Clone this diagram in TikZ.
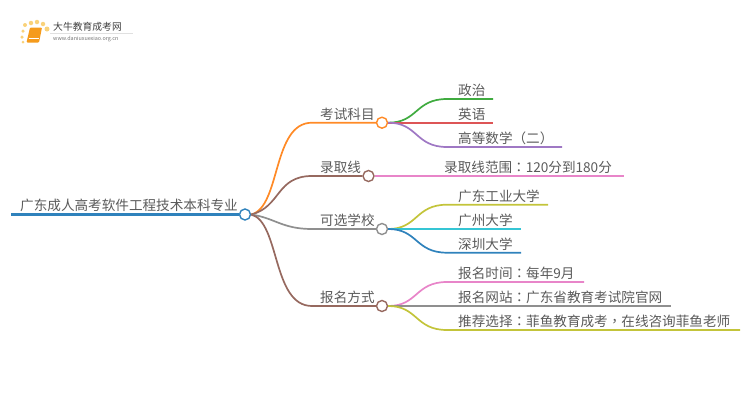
\documentclass[tikz,border=0pt]{standalone}
\usepackage{fontspec}
\setmainfont{Noto Sans CJK SC}
\newfontfamily\puncfont{Noto Sans CJK TC}
\newcommand{\zhpunc}[1]{{\puncfont #1}}
\definecolor{cOrange}{HTML}{FF8A26}
\definecolor{cBrown}{HTML}{96695F}
\definecolor{cGray}{HTML}{8F8F8F}
\definecolor{cGreen}{HTML}{3FAB3F}
\definecolor{cRed}{HTML}{DD5556}
\definecolor{cPurple}{HTML}{9F78C4}
\definecolor{cPink}{HTML}{E885C9}
\definecolor{cOlive}{HTML}{C3C43A}
\definecolor{cCyan}{HTML}{35C5D4}
\definecolor{cBlue}{HTML}{2F82BC}
\definecolor{cText}{HTML}{5A5A5A}
\definecolor{cBook}{HTML}{F59B1C}
\definecolor{cDot}{HTML}{F9D27A}
\begin{document}
\begin{tikzpicture}[x=1pt,y=-1pt,
    branch/.style={line width=1.7pt},
    leaf/.style={line width=1.7pt},
    dotnode/.style={circle,draw=#1,fill=white,line width=1.4pt,minimum size=11pt,inner sep=0pt},
    txt/.style={anchor=base west,inner sep=0pt,text=cText,font=\fontsize{13.6pt}{14pt}\selectfont},
    sun/.style={circle,fill=cDot,inner sep=0pt,minimum size=#1}]
    \useasboundingbox (0,0) rectangle (750,410);
    % logo
    \node[sun=3pt] (s1) at (23,42) {};
    \node[sun=3.5pt] (s2) at (22,37) {};
    \node[sun=3.5pt] (s3) at (23,31) {};
    \node[sun=4pt] (s4) at (25,25) {};
    \node[sun=4.5pt] (s5) at (31,23) {};
    \node[sun=4.5pt] (s6) at (37,22) {};
    \node[sun=4.5pt] (s7) at (43,24) {};
    \node[sun=5pt] (s8) at (47,29) {};
    \fill[cBook,rounded corners=1pt] (30,27.5) -- (42,27.5) -- (39,42.5) -- (26.5,42.5) -- cycle;
    \draw[white,line width=0.5pt] (28.5,38.5) -- (39,38.5);
    \draw[black!12,line width=0.5pt] (50,33) -- (133,33);
    \node[anchor=west,inner sep=0pt,text=black!75,font=\fontsize{9.8pt}{10pt}\selectfont] (logoname) at (53,27) {大牛教育成考网};
    \node[anchor=west,inner sep=0pt,text=black!55,font=\fontsize{5.4pt}{6pt}\selectfont] (logourl) at (53,39) {www.daniuxuexiao.org.cn};
    % main nodes
    \node[dotnode=cBlue] (root) at (245,214.5) {};
    \node[dotnode=cOrange] (kaoshi) at (382,122.7) {};
    \node[dotnode=cBrown] (luqu) at (368.5,176) {};
    \node[dotnode=cGray] (kexuan) at (382,229) {};
    \node[dotnode=cBrown] (baoming) at (382,306) {};
    \coordinate (rootL) at (11,214.5);
    \coordinate (kaoshiS) at (312,122.7);
    \coordinate (luquS) at (312,176);
    \coordinate (kexuanS) at (312,229);
    \coordinate (baomingS) at (312,306);
    % leaf ends
    \coordinate (zhengzhiS) at (447,99);
    \coordinate (zhengzhiE) at (493,99);
    \coordinate (yingyuE) at (493,122.7);
    \coordinate (gaoshuS) at (447,147);
    \coordinate (gaoshuE) at (562,147);
    \coordinate (fanweiE) at (624,176);
    \coordinate (gongdaS) at (447,204.7);
    \coordinate (gongdaE) at (548,204.7);
    \coordinate (guangdaE) at (521,229);
    \coordinate (shendaS) at (447,252.7);
    \coordinate (shendaE) at (521,252.7);
    \coordinate (shijianS) at (447,282);
    \coordinate (shijianE) at (584,282);
    \coordinate (wangzhanE) at (671,306);
    \coordinate (tuijianS) at (447,330);
    \coordinate (tuijianE) at (740,330);
    % connectors
    \draw[branch,cBlue,line width=2.2pt] (rootL) -- (root.west);
    \draw[branch,cOrange] (root.east) .. controls (281,207) and (272,122.7) .. (kaoshiS) -- (kaoshi.west);
    \draw[branch,cBrown] (root.east) .. controls (281,207) and (276,176) .. (luquS) -- (luqu.west);
    \draw[branch,cGray] (root.east) .. controls (275,218) and (282,229) .. (kexuanS) -- (kexuan.west);
    \draw[branch,cBrown] (root.east) .. controls (280,222) and (272,306) .. (baomingS) -- (baoming.west);
    \draw[leaf,cGreen] (kaoshi.east) .. controls (418,122.7) and (415,99) .. (zhengzhiS) -- (zhengzhiE);
    \draw[leaf,cRed] (kaoshi.east) -- (yingyuE);
    \draw[leaf,cPurple] (kaoshi.east) .. controls (418,122.7) and (415,147) .. (gaoshuS) -- (gaoshuE);
    \draw[leaf,cPink] (luqu.east) -- (fanweiE);
    \draw[leaf,cOlive] (kexuan.east) .. controls (418,229) and (415,204.7) .. (gongdaS) -- (gongdaE);
    \draw[leaf,cCyan] (kexuan.east) -- (guangdaE);
    \draw[leaf,cBlue] (kexuan.east) .. controls (418,229) and (415,252.7) .. (shendaS) -- (shendaE);
    \draw[leaf,cPink] (baoming.east) .. controls (418,306) and (415,282) .. (shijianS) -- (shijianE);
    \draw[leaf,cGray] (baoming.east) -- (wangzhanE);
    \draw[leaf,cOlive] (baoming.east) .. controls (418,306) and (415,330) .. (tuijianS) -- (tuijianE);
    % labels
    \node[txt] (rootT) at (20,210.5) {广东成人高考软件工程技术本科专业};
    \node[txt] (kaoshiT) at (320,119) {考试科目};
    \node[txt] (luquT) at (320,172.3) {录取线};
    \node[txt] (kexuanT) at (320,225.3) {可选学校};
    \node[txt] (baomingT) at (320,302.3) {报名方式};
    \node[txt] (zhengzhiT) at (458,95.3) {政治};
    \node[txt] (yingyuT) at (458,119) {英语};
    \node[txt] (gaoshuT) at (458,143.3) {高等数学\zhpunc{（}二\zhpunc{）}};
    \node[txt] (fanweiT) at (444,172.3) {录取线范围\zhpunc{：}120分到180分};
    \node[txt] (gongdaT) at (458,201) {广东工业大学};
    \node[txt] (guangdaT) at (458,225.3) {广州大学};
    \node[txt] (shendaT) at (458,249) {深圳大学};
    \node[txt] (shijianT) at (458,278.3) {报名时间\zhpunc{：}每年9月};
    \node[txt] (wangzhanT) at (458,302.3) {报名网站\zhpunc{：}广东省教育考试院官网};
    \node[txt] (tuijianT) at (458,326.3) {推荐选择\zhpunc{：}菲鱼教育成考\zhpunc{，}在线咨询菲鱼老师};
\end{tikzpicture}
\end{document}
